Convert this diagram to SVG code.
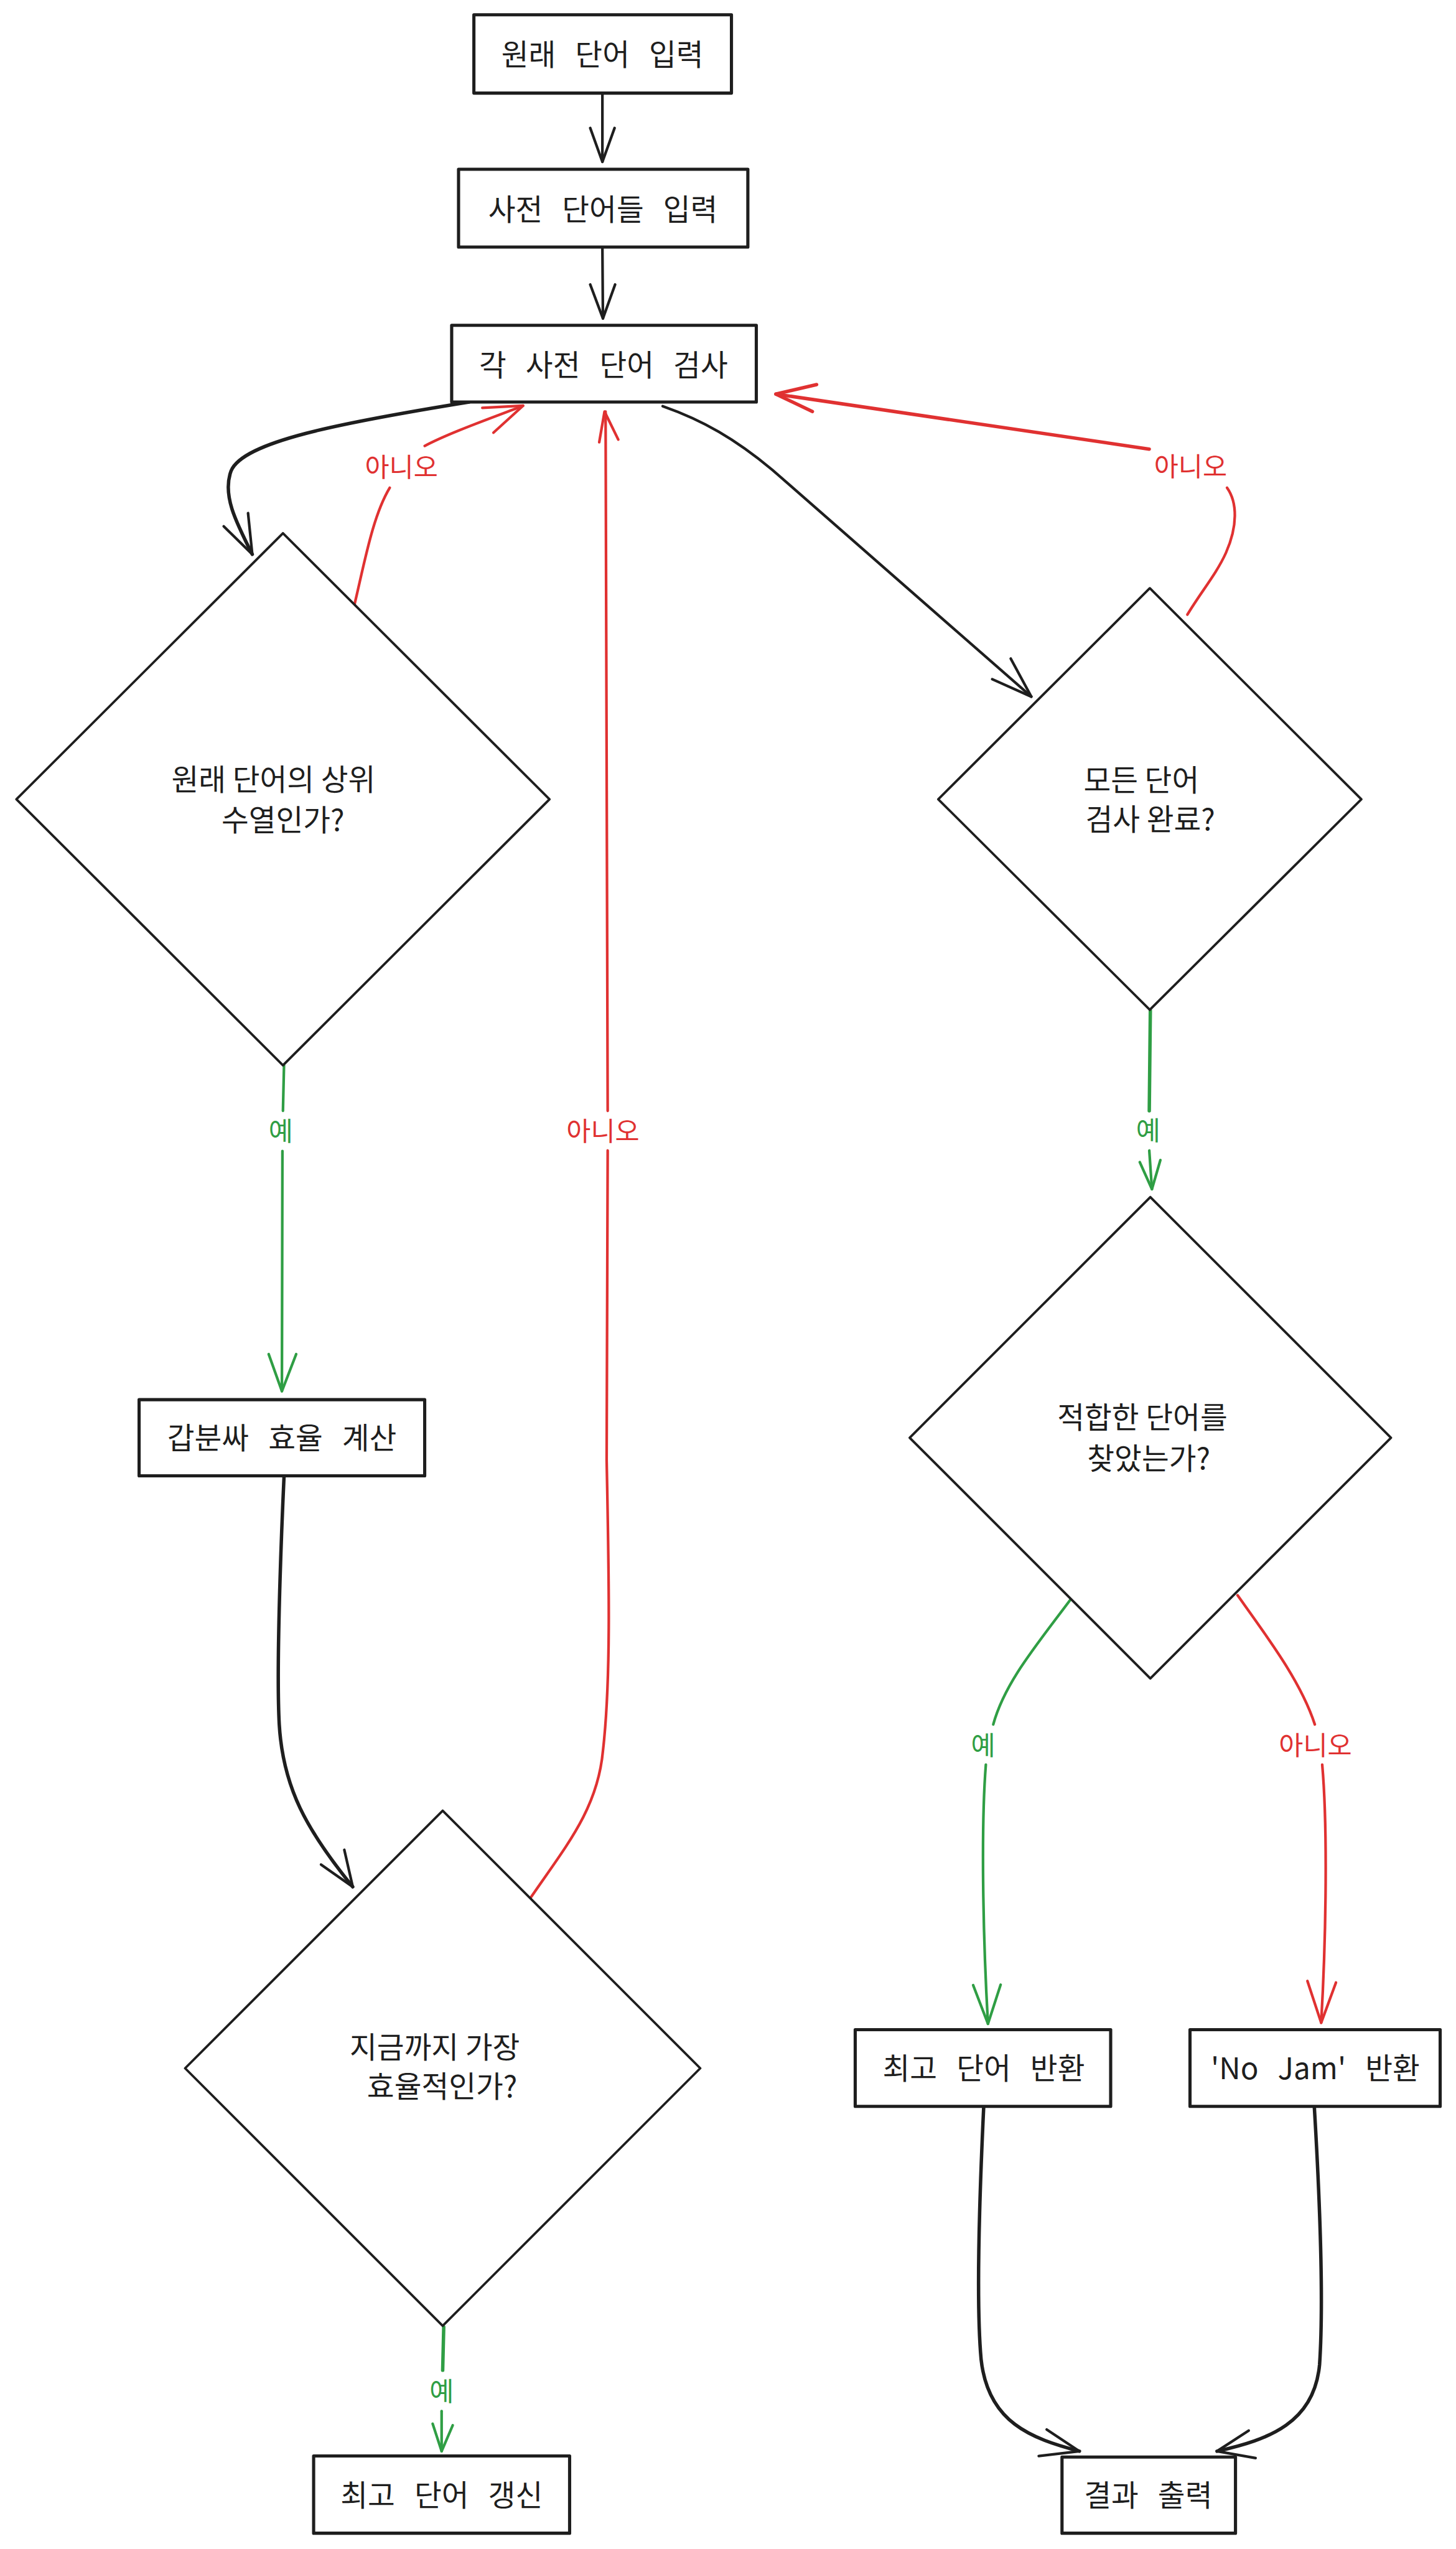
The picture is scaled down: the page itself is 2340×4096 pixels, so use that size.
<svg xmlns="http://www.w3.org/2000/svg" width="2340" height="4096" viewBox="0 0 2340 4096">
<style>
.box{fill:#ffffff;stroke:#1e1e1e;stroke-width:6;stroke-linejoin:round}
.dia{fill:#ffffff;stroke:#1e1e1e;stroke-width:4.5;stroke-linejoin:round}
.t{font-family:'Noto Sans CJK KR','Noto Sans',sans-serif;font-size:56px;fill:#1e1e1e;text-anchor:middle;dominant-baseline:central}
.bt{word-spacing:24px}
.lbl{font-family:'Noto Sans CJK KR','Noto Sans',sans-serif;font-size:50px;text-anchor:middle;dominant-baseline:central}
.c{fill:none;stroke-width:5;stroke-linecap:round;stroke-linejoin:round}
.k{stroke:#1e1e1e}
.r{stroke:#e03131}
.g{stroke:#2f9e44}
.rt{fill:#e03131}
.gt{fill:#2f9e44}
</style>
<rect x="0" y="0" width="2340" height="4096" fill="#ffffff"/>
<g transform="scale(0.85)">
<g id="connectors">
  <!-- box1 -> box2 -->
  <path class="c k" d="M1139 176 L1139 306"/>
  <path class="c k" d="M1116 242 L1139 306 L1162 242"/>
  <!-- box2 -> box3 -->
  <path class="c k" d="M1139 467 L1140 602"/>
  <path class="c k" d="M1116 538 L1140 602 L1163 538"/>
  <!-- box3 -> D1 -->
  <path class="c k" style="stroke-width:6.5" d="M887 760 C640 800 460 835 437 890 C420 935 445 985 477 1048"/>
  <path class="c k" d="M423 995 L477 1048 L469 970"/>
  <!-- D1 -> box3 (아니오) -->
  <path class="c r" d="M670 1144 C690 1060 705 975 737 922"/>
  <path class="c r" d="M803 843 C850 818 930 790 989 767"/>
  <path class="c r" d="M912 771 L989 767 L933 818"/>
  <text class="lbl rt" x="759" y="879">아니오</text>
  <!-- box3 -> D2 -->
  <path class="c k" d="M1253 768 C1330 795 1390 830 1460 888 L1950 1317"/>
  <path class="c k" d="M1876 1284 L1950 1317 L1911 1245"/>
  <!-- D2 -> box3 (아니오) -->
  <path class="c r" d="M2245 1162 C2270 1120 2300 1085 2318 1045 C2340 995 2340 950 2320 922"/>
  <path class="c r" style="stroke-width:6.5" d="M2173 849 C2000 822 1750 785 1467 745"/>
  <path class="c r" style="stroke-width:6.5" d="M1544 727 L1467 745 L1536 778"/>
  <text class="lbl rt" x="2251" y="878">아니오</text>
  <!-- D1 -> 갑분싸 (예) -->
  <path class="c g" d="M537 2014 L535 2100"/>
  <path class="c g" d="M534 2176 L533 2630"/>
  <path class="c g" d="M508 2560 L533 2630 L560 2560"/>
  <text class="lbl gt" x="531" y="2135">예</text>
  <!-- 갑분싸 -> D4 -->
  <path class="c k" style="stroke-width:6.5" d="M537 2792 C532 2900 522 3150 528 3260 C535 3380 580 3460 667 3567"/>
  <path class="c k" d="M607 3525 L667 3567 L651 3497"/>
  <!-- D4 -> box3 (아니오) -->
  <path class="c r" d="M1003 3588 C1070 3490 1130 3420 1140 3310 C1155 3180 1152 3000 1147 2760 L1149 2175"/>
  <path class="c r" d="M1149 2100 L1145 778"/>
  <path class="c r" d="M1133 836 L1143 778 L1169 831"/>
  <text class="lbl rt" x="1140" y="2135">아니오</text>
  <!-- D2 -> D3 (예) -->
  <path class="c g" style="stroke-width:6.5" d="M2175 1910 L2173 2100"/>
  <path class="c g" d="M2173 2175 L2178 2248"/>
  <path class="c g" d="M2155 2197 L2178 2248 L2194 2193"/>
  <text class="lbl gt" x="2171" y="2133">예</text>
  <!-- D3 -> 최고 단어 반환 (예) -->
  <path class="c g" d="M2027 3020 C1960 3110 1900 3180 1878 3260"/>
  <path class="c g" d="M1864 3336 C1855 3450 1858 3650 1868 3826"/>
  <path class="c g" d="M1840 3753 L1868 3826 L1892 3752"/>
  <text class="lbl gt" x="1859" y="3296">예</text>
  <!-- D3 -> 'No Jam' 반환 (아니오) -->
  <path class="c r" d="M2340 3016 C2400 3100 2460 3180 2486 3260"/>
  <path class="c r" d="M2500 3336 C2510 3450 2508 3650 2498 3824"/>
  <path class="c r" d="M2472 3745 L2498 3824 L2526 3748"/>
  <text class="lbl rt" x="2487" y="3296">아니오</text>
  <!-- D4 -> 최고 단어 갱신 (예) -->
  <path class="c g" style="stroke-width:6.5" d="M839 4399 L837 4481"/>
  <path class="c g" d="M835 4558 L835 4634"/>
  <path class="c g" d="M818 4582 L835 4634 L856 4585"/>
  <text class="lbl gt" x="835" y="4517">예</text>
  <!-- 최고 단어 반환 -> 결과 출력 -->
  <path class="c k" style="stroke-width:6.5" d="M1860 3982 C1852 4150 1845 4350 1855 4460 C1868 4580 1950 4610 2041 4634"/>
  <path class="c k" d="M1979 4593 L2041 4634 L1964 4643"/>
  <!-- 'No Jam' 반환 -> 결과 출력 -->
  <path class="c k" style="stroke-width:6.5" d="M2485 3982 C2495 4150 2503 4350 2495 4470 C2485 4580 2400 4612 2301 4634"/>
  <path class="c k" d="M2361 4595 L2301 4634 L2374 4647"/>
</g>
<g id="n1"><rect class="box" x="896" y="28" width="487" height="148"/><text class="t bt" x="1139" y="100">원래 단어 입력</text></g>
<g id="n2"><rect class="box" x="867" y="320" width="547" height="147"/><text class="t bt" x="1140" y="392">사전 단어들 입력</text></g>
<g id="n3"><rect class="box" x="854" y="615" width="576" height="145"/><text class="t bt" x="1141" y="686">각 사전 단어 검사</text></g>
<g id="d1"><polygon class="dia" points="535,1008 1039,1511 535,2014 31,1511"/><text class="t" x="517" y="1470">원래 단어의 상위</text><text class="t" x="535" y="1547">수열인가?</text></g>
<g id="d2"><polygon class="dia" points="2174,1112 2574,1511 2174,1909 1774,1511"/><text class="t" x="2158" y="1471">모든 단어</text><text class="t" x="2175" y="1545">검사 완료?</text></g>
<g id="n4"><rect class="box" x="263" y="2646" width="540" height="144"/><text class="t bt" x="533" y="2715">갑분싸 효율 계산</text></g>
<g id="d3"><polygon class="dia" points="2175,2263 2630,2718 2175,3173 1720,2718"/><text class="t" x="2160" y="2676">적합한 단어를</text><text class="t" x="2172" y="2753">찾았는가?</text></g>
<g id="d4"><polygon class="dia" points="837,3423 1324,3910 837,4397 350,3910"/><text class="t" x="822" y="3866">지금까지 가장</text><text class="t" x="836" y="3941">효율적인가?</text></g>
<g id="n5"><rect class="box" x="1617" y="3837" width="483" height="145"/><text class="t bt" x="1860" y="3907">최고 단어 반환</text></g>
<g id="n6"><rect class="box" x="2250" y="3837" width="473" height="145"/><text class="t bt" x="2487" y="3907">'No Jam' 반환</text></g>
<g id="n7"><rect class="box" x="2008" y="4645" width="328" height="144"/><text class="t bt" x="2171" y="4714">결과 출력</text></g>
<g id="n8"><rect class="box" x="593" y="4643" width="484" height="146"/><text class="t bt" x="835" y="4713">최고 단어 갱신</text></g>
</g>
</svg>
